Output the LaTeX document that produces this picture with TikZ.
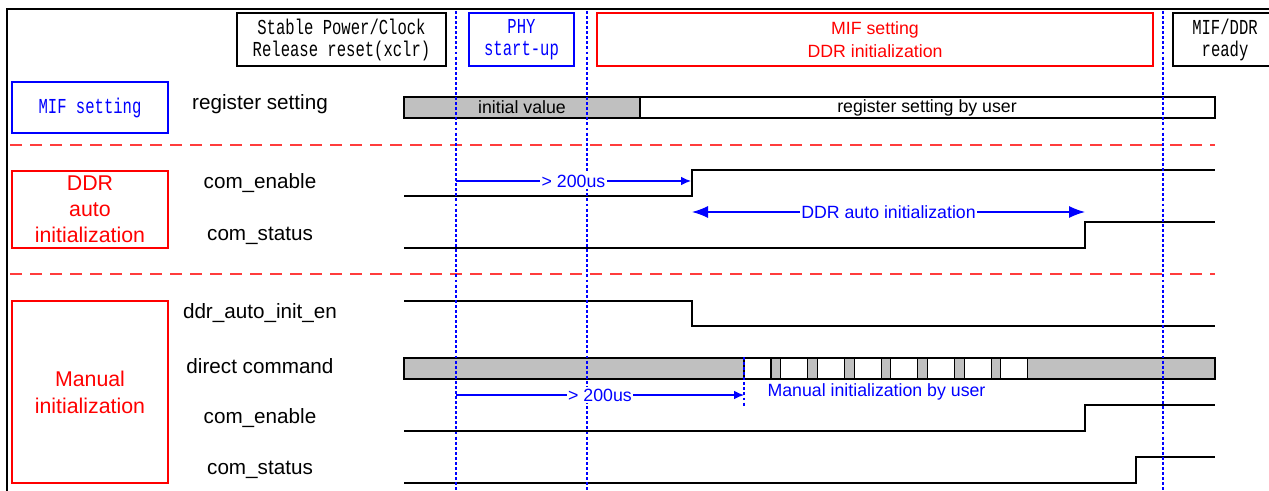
\documentclass[tikz,border=0pt]{standalone}
\usepackage{fontspec}
\setmainfont{Liberation Sans}
\newfontfamily\gothic[FakeStretch=0.73]{Liberation Mono}
\usetikzlibrary{arrows.meta}

\definecolor{sigblue}{RGB}{0,0,255}
\definecolor{grpred}{RGB}{255,0,0}
\definecolor{sepred}{RGB}{255,60,60}
\definecolor{busgray}{RGB}{192,192,192}

\begin{document}
\begin{tikzpicture}[
  x=0.75pt,
  y=-0.75pt,
  font=\fontsize{15.5}{18}\selectfont,
  line/.style={draw=black,line width=0.8pt},
  wave/.style={draw=black,line width=0.9pt},
  bus/.style={line,fill=busgray},
  phasebox/.style={line,align=center,inner sep=0pt,minimum height=39.75pt,
                   font=\gothic\fontsize{16}{16.5}\selectfont},
  groupbox/.style={draw=grpred,line width=0.8pt,text=grpred,align=center,inner sep=0pt,
                   minimum width=117pt,font=\fontsize{16}{19.5}\selectfont},
  note/.style={text=sigblue,font=\fontsize{13.3}{15}\selectfont,inner sep=1pt},
  marker/.style={draw=sigblue,line width=1.5pt,dash pattern=on 2.2pt off 1.6pt},
  divider/.style={draw=sepred,line width=0.9pt,dash pattern=on 9pt off 6pt},
  delay/.style={draw=sigblue,line width=0.9pt,-{Latex[length=7.5pt,width=6.5pt]}},
  span/.style={draw=sigblue,line width=0.9pt,{Latex[length=12pt,width=9pt]}-{Latex[length=12pt,width=9pt]}}
]
\useasboundingbox (0,0) rectangle (1269,491);

% ---------------------------------------------------------------- frame
\draw[line width=1.5pt] (1269,9) -- (7,9) -- (7,491);

% ---------------------------------------------------------------- phases (top row)
\node[phasebox,minimum width=156.75pt] (power) at (341.5,39.5) {Stable Power/Clock\\Release reset(xclr)};
\node[phasebox,draw=sigblue,text=sigblue,minimum width=78.75pt] (phy) at (521.5,39.5) {PHY\\start-up};
\node[phasebox,draw=grpred,text=grpred,minimum width=417pt,font=\fontsize{13.3}{17.25}\selectfont] (init) at (875,39.5)
  {MIF setting\\DDR initialization};
\node[phasebox,minimum width=78pt] (ready) at (1225,39.5) {MIF/DDR\\ready};

% ---------------------------------------------------------------- groups (left column)
\node[groupbox,draw=sigblue,text=sigblue,minimum height=38.25pt,font=\gothic\fontsize{16}{16.5}\selectfont] (mifgrp) at (90,107.5)
  {MIF setting};
\node[groupbox,minimum height=57.75pt] (autogrp) at (90,209.5) {DDR\\auto\\initialization};
\node[groupbox,minimum height=136.5pt,font=\fontsize{16}{20.25}\selectfont] (mangrp) at (90,392) {Manual\\initialization};

\draw[divider] (10,145) -- (1215,145);
\draw[divider] (10,274) -- (1215,274);

% ---------------------------------------------------------------- signal names
\node (nreg)  at (260,104) {register setting};
\node (nena)  at (260,183) {com\_enable};
\node (nsta)  at (260,236) {com\_status};
\node (nauto) at (260,313) {ddr\_auto\_init\_en};
\node (ncmd)  at (260,366) {direct command};
\node (nena2) at (260,418) {com\_enable};
\node (nsta2) at (260,470) {com\_status};

% ---------------------------------------------------------------- waveforms
\draw[bus] (404,97) rectangle (640,118);
\draw[line,fill=white] (640,97) rectangle (1215,118);
\node[note,text=black] (regini)  at (522,107.5) {initial value};
\node[note,text=black] (reguser) at (927,107.5) {register setting by user};

\draw[wave] (404,196) -- (692,196) -- (692,170) -- (1215,170);
\draw[wave] (404,248) -- (1085,248) -- (1085,222) -- (1215,222);
\draw[wave] (404,301) -- (692,301) -- (692,326) -- (1215,326);

\draw[bus] (404,358) rectangle (1215,379);
\foreach \i in {0,...,7}{
  \draw[line,fill=white] ({744+36.7*\i},358) rectangle ++(27,21);
}

\draw[wave] (404,431) -- (1085,431) -- (1085,405) -- (1215,405);
\draw[wave] (404,483) -- (1136,483) -- (1136,457) -- (1215,457);

% ---------------------------------------------------------------- phase markers
\foreach \x in {456,587,1163}{
  \draw[marker] (\x,11) -- (\x,491);
}
\draw[marker] (744,357) -- (744,406);

% ---------------------------------------------------------------- timing arrows
\coordinate (d1s) at (456,181);
\coordinate (d1e) at (691,181);
\draw[delay] (d1s) -- node[note,fill=white] (d1lab) {> 200us} (d1e);

\coordinate (auts) at (692,212);
\coordinate (aute) at (1085,212);
\draw[span] (auts) -- node[note,fill=white] (autlab) {DDR auto initialization} (aute);

\coordinate (d2s) at (456,395);
\coordinate (d2e) at (744,395);
\draw[delay] (d2s) -- node[note,fill=white] (d2lab) {> 200us} (d2e);

\node[note,anchor=west] (manuser) at (766,392) {Manual initialization by user};

\end{tikzpicture}
\end{document}
